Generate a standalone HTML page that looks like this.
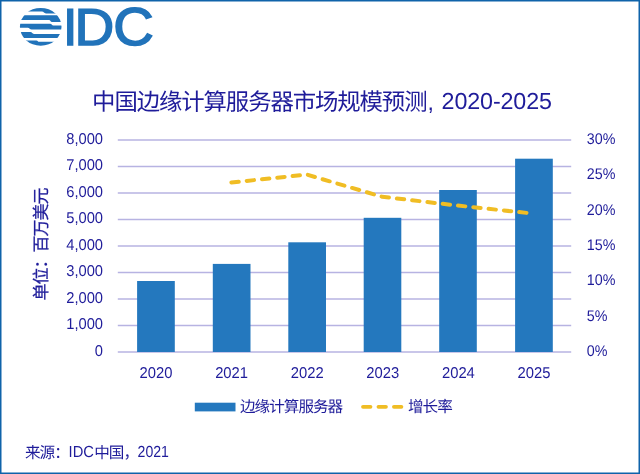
<!DOCTYPE html>
<html lang="zh-CN">
<head>
<meta charset="utf-8">
<title>中国边缘计算服务器市场规模预测, 2020-2025</title>
<style>
  html, body { margin: 0; padding: 0; background: #ffffff; }
  body { width: 640px; height: 474px; overflow: hidden; position: relative; }
  svg { position: absolute; left: 0; top: 0; display: block; }
  text { font-family: "Liberation Sans", "Noto Sans CJK SC", sans-serif; fill: #1f1c9a; text-rendering: geometricPrecision; }
  .cjk { font-family: "Liberation Sans", "Noto Sans CJK SC", sans-serif; }
  .num { font-size: 15.73px; text-rendering: geometricPrecision; }
  .grid line { stroke: #b7b3e2; stroke-width: 1.3; }
  .bars rect { fill: #2478be; }
  .logo text { fill: #2173ba; stroke: #2173ba; stroke-width: 1.5px; stroke-linejoin: miter; }
</style>
</head>
<body>
<svg width="640" height="474" viewBox="0 0 640 474">
  <!-- background + frame -->
  <rect x="0" y="0" width="640" height="474" fill="#ffffff"/>
  <rect x="0.75" y="0.75" width="638.5" height="472.5" fill="none" stroke="#0f63aa" stroke-width="1.5"/>

  <!-- IDC logo -->
  <g class="logo">
    <defs>
      <clipPath id="globeClip"><ellipse cx="40.7" cy="26.85" rx="20.8" ry="18.95"/></clipPath>
    </defs>
    <g clip-path="url(#globeClip)" fill="#2173ba">
      <path d="M18 5 H64 V13.5 H46 C44 13.5 43.9 11.6 41.9 11.6 H18 Z"/>
      <path d="M18 15.2 H64 V21.9 H52 C50.4 21.9 50.5 19.9 49 19.9 H18 Z"/>
      <path d="M18 23.7 H50 C51.7 23.7 51.7 25.4 53.4 25.4 H64 V29.6 H31.6 C29.7 29.6 29.7 27.7 27.7 27.7 H18 Z"/>
      <path d="M18 32.1 H30.4 C32.2 32.1 32.2 33.9 34 33.9 H64 V38 H18 Z"/>
      <path d="M18 40.4 H36.4 C37.9 40.4 37.8 41.8 39.3 41.8 H64 V49 H18 Z"/>
    </g>
    <text id="lI" x="63.1" y="44.58" font-size="51.8">I</text>
    <text id="lD" transform="translate(74.53,44.58) scale(1.0626,1)" font-size="51.8">D</text>
    <text id="lC" transform="translate(113.3,45.2) scale(1.0847,1.028)" font-size="51.8">C</text>
  </g>

  <!-- title -->
  <text id="title" x="92.1" y="110.2" font-size="23.4" class="cjk"><tspan letter-spacing="-1.1">中国边缘计算服务器市场规模预测</tspan><tspan font-size="23" dx="1.1" dy="-0.4">,</tspan><tspan font-size="23.3" dx="7.6" dy="-0.35" letter-spacing="-0.12">2020-2025</tspan></text>

  <!-- gridlines -->
  <g class="grid">
    <line x1="117.8" x2="571.2" y1="140" y2="140"/>
    <line x1="117.8" x2="571.2" y1="166.5" y2="166.5"/>
    <line x1="117.8" x2="571.2" y1="193" y2="193"/>
    <line x1="117.8" x2="571.2" y1="219.5" y2="219.5"/>
    <line x1="117.8" x2="571.2" y1="246" y2="246"/>
    <line x1="117.8" x2="571.2" y1="272.5" y2="272.5"/>
    <line x1="117.8" x2="571.2" y1="299" y2="299"/>
    <line x1="117.8" x2="571.2" y1="325.5" y2="325.5"/>
    <line x1="117.8" x2="571.2" y1="352" y2="352"/>
  </g>

  <!-- bars -->
  <g class="bars">
    <rect x="137.1" y="281" width="37.7" height="71"/>
    <rect x="212.8" y="263.9" width="37.7" height="88.1"/>
    <rect x="288.3" y="242.3" width="37.7" height="109.7"/>
    <rect x="363.7" y="217.8" width="37.6" height="134.2"/>
    <rect x="439.2" y="190" width="37.6" height="162"/>
    <rect x="515.1" y="158.7" width="37.7" height="193.3"/>
  </g>

  <!-- growth-rate line -->
  <polyline points="231.4,182.5 306.9,174.6 382.2,196.8 458,205.6 533.4,213.6" fill="none" stroke="#f0bd24" stroke-width="4" stroke-linecap="round" stroke-linejoin="round" stroke-dasharray="7.4 7.98"/>

  <!-- left axis labels -->
  <g class="num" style="font-size:15.66px" text-anchor="end">
    <text transform="translate(103,143.80) scale(0.939,1)">8,000</text>
    <text transform="translate(103,170.30) scale(0.939,1)">7,000</text>
    <text transform="translate(103,196.80) scale(0.939,1)">6,000</text>
    <text transform="translate(103,223.30) scale(0.939,1)">5,000</text>
    <text transform="translate(103,249.80) scale(0.939,1)">4,000</text>
    <text transform="translate(103,276.30) scale(0.939,1)">3,000</text>
    <text transform="translate(103,302.80) scale(0.939,1)">2,000</text>
    <text transform="translate(103,329.30) scale(0.939,1)">1,000</text>
    <text transform="translate(103,355.80) scale(0.939,1)">0</text>
  </g>

  <!-- right axis labels -->
  <g class="num" style="font-size:15.44px">
    <text transform="translate(586.8,143.70) scale(0.926,1)">30%</text>
    <text transform="translate(586.8,179.10) scale(0.926,1)">25%</text>
    <text transform="translate(586.8,214.50) scale(0.926,1)">20%</text>
    <text transform="translate(586.8,249.90) scale(0.926,1)">15%</text>
    <text transform="translate(586.8,285.30) scale(0.926,1)">10%</text>
    <text transform="translate(586.8,320.70) scale(0.926,1)">5%</text>
    <text transform="translate(586.8,356.10) scale(0.926,1)">0%</text>
  </g>

  <!-- x axis labels -->
  <g class="num" style="font-size:15.69px" text-anchor="middle">
    <text transform="translate(156,378.25) scale(0.943,1)">2020</text>
    <text transform="translate(231.6,378.25) scale(0.943,1)">2021</text>
    <text transform="translate(307.2,378.25) scale(0.943,1)">2022</text>
    <text transform="translate(382.8,378.25) scale(0.943,1)">2023</text>
    <text transform="translate(458.4,378.25) scale(0.943,1)">2024</text>
    <text transform="translate(534,378.25) scale(0.943,1)">2025</text>
  </g>

  <!-- y axis title -->
  <text id="ytitle" class="cjk" font-size="17" letter-spacing="-1" stroke="#1f1c9a" stroke-width="0.25" text-anchor="middle" transform="translate(46.6,244.5) rotate(-90)">单位：百万美元</text>

  <!-- legend -->
  <rect x="194.8" y="402.7" width="40.7" height="8.7" fill="#2478be"/>
  <text id="leg1" class="cjk" x="240.0" y="412.4" font-size="15.6" letter-spacing="-1.0">边缘计算服务器</text>
  <line x1="363.0" x2="401.5" y1="406.85" y2="406.85" stroke="#f0bd24" stroke-width="3.8" stroke-linecap="round" stroke-dasharray="7.5 7.96"/>
  <text id="leg2" class="cjk" x="408.0" y="412.4" font-size="15.6" letter-spacing="-1.0">增长率</text>

  <!-- source -->
  <text id="src" class="cjk" x="25.0" y="458.25" font-size="15.6" letter-spacing="-1.0">来源：</text>
  <text id="src2" transform="translate(68.6,457.2) scale(0.92,1.0)" font-size="16">IDC</text>
  <text id="src3" class="cjk" x="94.2" y="458.25" font-size="15.6" letter-spacing="-1.0">中国，</text>
  <text id="src4" transform="translate(137.6,457.2) scale(0.88,1.0)" font-size="16">2021</text>
</svg>
</body>
</html>
